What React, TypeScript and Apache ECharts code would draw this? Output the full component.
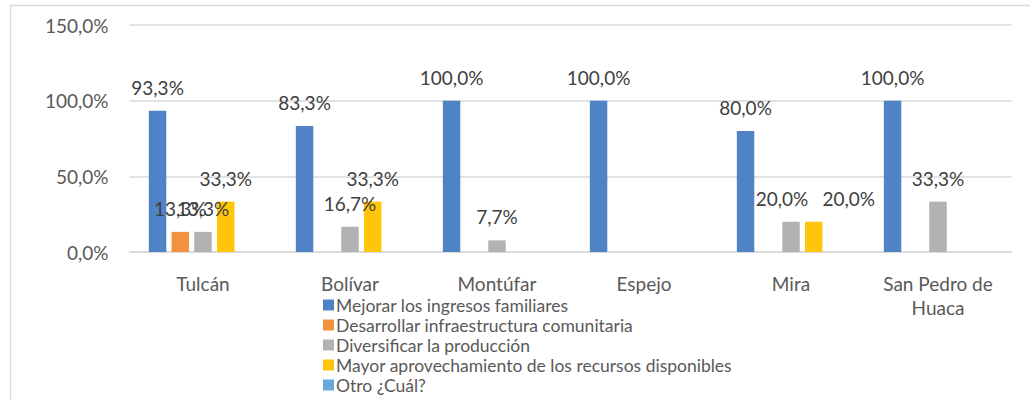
import React, { useEffect, useRef } from "react";
import * as echarts from "echarts";

const categories = ["Tulcán", "Bolívar", "Montúfar", "Espejo", "Mira", "San Pedro de\nHuaca"];
const seriesNames = [
  "Mejorar los ingresos familiares",
  "Desarrollar infraestructura comunitaria",
  "Diversificar la producción",
  "Mayor aprovechamiento de los recursos disponibles",
  "Otro ¿Cuál?",
];
const mejorar = [93.3, 83.3, 100, 100, 80, 100];
const desarrollar = [13.3, 0, 0, 0, 0, 0];
const diversificar = [13.3, 16.7, 7.7, 0, 20, 33.3];
const mayor = [33.3, 33.3, 0, 0, 20, 0];
const otro = [0, 0, 0, 0, 0, 0];
const yTicks = [0, 50, 100, 150];

const colors = ["#5082C6", "#F0923E", "#B2B2B2", "#FFC50A", "#67A9DC"];
const FONT = "Lato";
// horizontal nudges of a few data labels (series index -> category index -> dx), as in the reference
const labelNudges: Record<number, Record<number, number>> = {
  2: { 4: -9 },
  3: { 4: 35 },
};

const fmt = (v: number) => v.toFixed(1).replace(".", ",") + "%";

export default function App() {
  const ref = useRef<HTMLDivElement>(null);
  useEffect(() => {
    if (!ref.current) return;
    const chart = echarts.init(ref.current, undefined, { renderer: "svg" });
    const allData = [mejorar, desarrollar, diversificar, mayor, otro];
    chart.setOption({
      animation: false,
      textStyle: { fontFamily: FONT },
      graphic: [
        {
          type: "rect",
          shape: { x: 10.5, y: 5.5, width: 1040, height: 420 },
          style: { fill: "none", stroke: "#d9d9d9", lineWidth: 1.5 },
          silent: true,
        },
      ],
      grid: { left: 129.5, right: 18.5, top: 25, bottom: 148, containLabel: false },
      legend: {
        orient: "vertical",
        left: 318,
        top: 290,
        height: 140,
        itemWidth: 11,
        itemHeight: 11,
        itemGap: 0,
        icon: "rect",
        textStyle: {
          fontFamily: FONT,
          fontSize: 17.5,
          lineHeight: 20,
          color: "#595959",
          padding: [0, 0, 0, -3],
        },
        data: seriesNames,
      },
      xAxis: {
        type: "category",
        data: categories,
        axisLine: { show: true, lineStyle: { color: "#d9d9d9", width: 1.5 } },
        axisTick: { show: false },
        axisLabel: {
          fontFamily: FONT,
          fontSize: 19,
          color: "#595959",
          margin: 19,
          lineHeight: 24,
          interval: 0,
        },
      },
      yAxis: {
        type: "value",
        min: yTicks[0],
        max: yTicks[yTicks.length - 1],
        interval: 50,
        axisLine: { show: false },
        axisTick: { show: false },
        splitLine: { lineStyle: { color: "#d9d9d9", width: 1.5 } },
        axisLabel: {
          fontFamily: FONT,
          fontSize: 19,
          color: "#595959",
          margin: 21,
          formatter: (v: number) => fmt(v),
        },
      },
      series: seriesNames.map((name, i) => ({
        name,
        type: "bar",
        data: allData[i].map((v, j) => {
          const dx = labelNudges[i] && labelNudges[i][j];
          return dx ? { value: v, label: { offset: [dx, 0] } } : v;
        }),
        barGap: "30%",
        barCategoryGap: "26.3%",
        itemStyle: { color: colors[i] },
        label: {
          show: true,
          position: "top",
          distance: 14,
          fontFamily: FONT,
          fontSize: 19,
          color: "#404040",
          formatter: (p: any) => (p.value > 0 ? fmt(p.value) : ""),
        },
      })),
    });
    return () => chart.dispose();
  }, []);
  return (
    <div
      ref={ref}
      style={{ position: "absolute", left: 0, top: 0, width: 1030, height: 400 }}
    />
  );
}
